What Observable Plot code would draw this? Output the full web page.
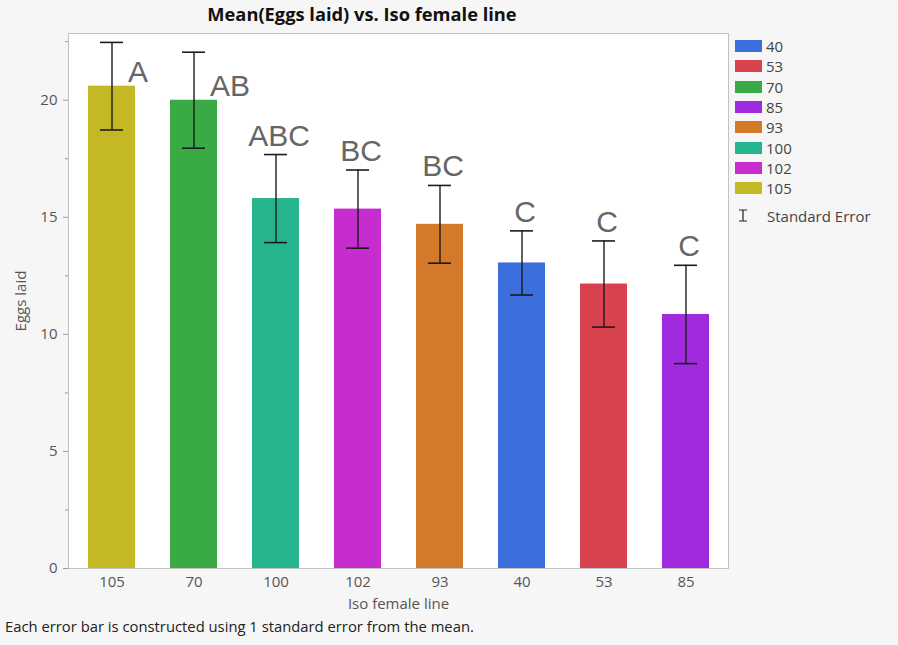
<!DOCTYPE html>
<html>
<head>
<meta charset="utf-8">
<script src="https://cdn.jsdelivr.net/npm/d3@7"></script>
<script src="https://cdn.jsdelivr.net/npm/@observablehq/plot@0.6"></script>
<style>
  html, body { margin: 0; padding: 0; background: #f6f6f6; }
  #wrap { position: relative; width: 898px; height: 645px; font-family: "Open Sans", sans-serif; }
  #title { position: absolute; left: 0; top: 1px; width: 724px; text-align: center;
           font-weight: 700; font-size: 18.3px; color: #111; }
  #chart { position: absolute; left: 0; top: 26px; }
  #legend { position: absolute; left: 735px; top: 36px; }
  #caption { position: absolute; left: 5px; top: 616px; font-size: 14.8px; color: #222; }
  #legend .lg-swatch { height: 20.3px !important; padding-bottom: 0 !important;
                       font-size: 15px !important; font-family: "Open Sans", sans-serif !important; color: #444; }
  #legend .lg-swatch > svg { margin-right: 4px !important; }
  .se-item { display: flex; align-items: center; height: 20px; font-size: 15px; color: #444; }
  .se-item svg { margin-right: 18px; margin-left: 2px; }
</style>
</head>
<body>
<div id="wrap">
  <div id="title">Mean(Eggs laid) vs. Iso female line</div>
  <div id="chart"></div>
  <div id="legend"></div>
  <div id="caption">Each error bar is constructed using 1 standard error from the mean.</div>
</div>
<script>
// Iso female lines, ordered by mean eggs laid
const lines   = ["105", "70", "100", "102", "93", "40", "53", "85"];
const means   = [20.6, 20.0, 15.8, 15.35, 14.7, 13.05, 12.15, 10.85];
const stdErrs = [1.87, 2.05, 1.88, 1.67, 1.66, 1.37, 1.84, 2.1];
const letters = ["A", "AB", "ABC", "BC", "BC", "C", "C", "C"];

// Legend order and colour per line
const legendOrder = ["40", "53", "70", "85", "93", "100", "102", "105"];
const lineColors  = ["#3a6fdd", "#d8424f", "#3aab44", "#a12ade", "#d4782a", "#26b48f", "#c72ccf", "#c5b825"];

const yMajor = [0, 5, 10, 15, 20];
const yMinor = [2.5, 7.5, 12.5, 17.5, 22.5];

const rows = lines.map((line, i) => ({
  line, mean: means[i], se: stdErrs[i], letter: letters[i],
  lo: means[i] - stdErrs[i], hi: means[i] + stdErrs[i]
}));

// Letters sit beside the whisker when it runs close to the top of the frame
const yMax = 22.85;
const besideRows = rows.filter(d => d.hi > 21.5);
const aboveRows = rows.filter(d => d.hi <= 21.5);

const font = "Open Sans, sans-serif";
const letterFont = "Liberation Sans, Arial, sans-serif";
const colorScale = {type: "ordinal", domain: legendOrder, range: lineColors};

const chart = Plot.plot({
  width: 898,
  height: 594,
  marginTop: 7,
  marginBottom: 52,
  marginLeft: 68,
  marginRight: 170,
  style: {fontFamily: font, fontSize: "15px", background: "transparent", color: "#555"},
  x: {domain: lines, paddingInner: 0.43, paddingOuter: 0.2},
  y: {domain: [0, yMax]},
  color: colorScale,
  marks: [
    Plot.frame({fill: "white"}),
    Plot.barY(rows, {x: "line", y: "mean", fill: "line"}),
    Plot.ruleX(rows, {x: "line", y1: "lo", y2: "hi", stroke: "#1c1c1c", strokeWidth: 1.4}),
    Plot.tickY(rows, {x: "line", y: "lo", stroke: "#1c1c1c", strokeWidth: 1.6, insetLeft: 12, insetRight: 12}),
    Plot.tickY(rows, {x: "line", y: "hi", stroke: "#1c1c1c", strokeWidth: 1.6, insetLeft: 12, insetRight: 12}),
    Plot.text(besideRows, {x: "line", y: "mean", text: "letter", textAnchor: "start", lineAnchor: "bottom",
      dx: 16, dy: -4, fontSize: 30, fill: "#666", fontFamily: letterFont}),
    Plot.text(aboveRows, {x: "line", y: "hi", text: "letter", lineAnchor: "bottom",
      dx: 3, dy: -9, fontSize: 30, fill: "#666", fontFamily: letterFont}),
    Plot.frame({stroke: "#c2c2c2"}),
    Plot.axisY({ticks: yMajor, tickSize: 5, tickPadding: 6, stroke: "#999", fill: "#555", fontSize: 15,
      label: "Eggs laid", labelAnchor: "center", labelArrow: "none", labelOffset: 53}),
    Plot.axisY({ticks: yMinor, tickSize: 3, stroke: "#999", text: null, label: null}),
    Plot.axisX({tickSize: 0, tickPadding: 8, fill: "#555", fontSize: 15,
      label: "Iso female line", labelAnchor: "center", labelArrow: "none", labelOffset: 40})
  ]
});
document.getElementById("chart").appendChild(chart);

// Colour swatches plus the standard-error entry
const legend = Plot.legend({
  color: colorScale,
  legend: "swatches",
  columns: 1,
  swatchWidth: 27,
  swatchHeight: 12,
  className: "lg",
  style: {fontFamily: font, fontSize: "15px", color: "#444"}
});
const legendBox = document.getElementById("legend");
legendBox.appendChild(legend);
const se = document.createElement("div");
se.className = "se-item";
se.innerHTML = '<svg width="12" height="13"><path d="M2,1H10M6,1V12M2,12H10" stroke="#222" stroke-width="1.2" fill="none"/></svg>Standard Error';
legendBox.appendChild(se);
</script>
</body>
</html>
